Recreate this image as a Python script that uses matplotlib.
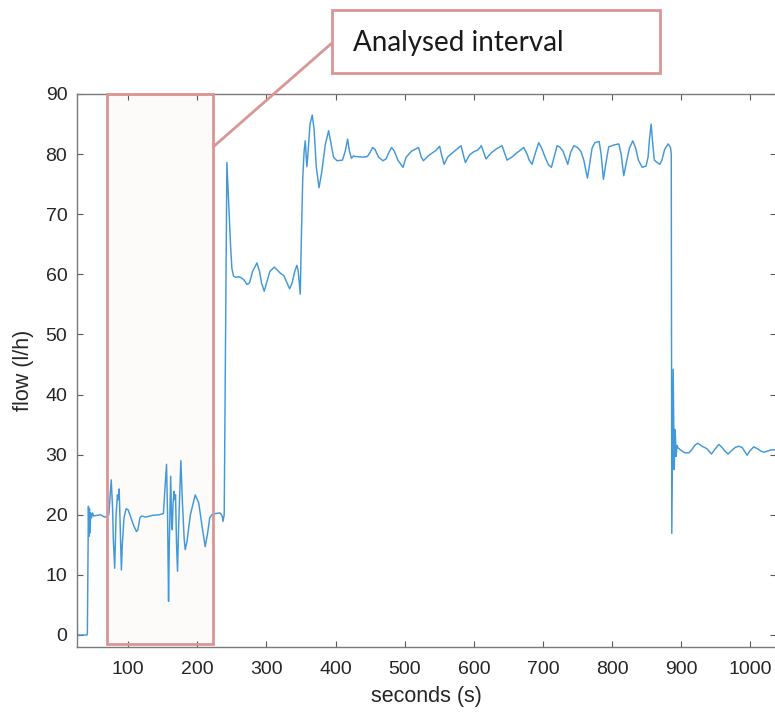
import matplotlib
matplotlib.use("Agg")
import matplotlib.pyplot as plt
from matplotlib.patches import Rectangle, ConnectionPatch

plt.rcParams['font.family'] = ['Liberation Sans', 'DejaVu Sans']

# ---- data ----
time_s = [
    20, 25.5, 26.5, 27, 40.5, 41, 42.5, 43.2, 44, 44.8, 45.8, 47, 48.5, 50, 55, 60, 66, 70,
    72, 75.5, 77.5, 78.5, 80.5, 82.5, 84.5, 85.5, 87, 88.5, 90.2, 91.5, 94, 97, 100, 104, 108,
    112, 114, 117, 119.8, 125, 135, 145, 151, 153, 155.5, 157, 158.4, 159.5, 161.5, 163, 163.8,
    165, 166.5, 167.5, 168.5, 170, 171.4, 173, 176.2, 178.5, 181, 182.5, 185, 190, 197, 202,
    207, 211.4, 215, 218, 221, 226, 233, 236, 237.2, 238.9,
    242.8, 244.5, 246, 248, 250, 252.4, 256, 260, 264, 268, 272, 275.6, 280, 286.2, 290, 293,
    296.8, 300, 305, 311.3, 315, 320, 325, 330, 333.5, 337, 341, 344.1, 346, 348.9, 350.5,
    352.5, 354.5, 356.1, 358.5, 360, 363, 366.3, 369, 372, 376, 380, 385, 389.9, 393, 397, 402,
    410, 414, 417.4, 420, 423, 426, 428, 440, 446, 450, 453.6, 457, 462, 468.5, 473, 478, 481,
    485, 490, 497.5, 502, 510, 520, 524, 527, 535, 545, 550.5, 553, 557, 562, 570, 581.5,
    584.5, 587.7, 594, 600, 606, 610.9, 613.5, 617.6, 625, 633, 640.8, 643.5, 648, 655, 662,
    672.1, 677, 680, 684.2, 689, 693.8, 698, 703, 708, 712.2, 716, 720.4, 724, 729, 732, 735.8,
    740, 744.5, 750, 755, 759, 764.3, 767, 771, 775, 781.2, 784, 787.4, 791, 795, 802, 809.6,
    813, 816.8, 820, 825, 829.9, 834, 838, 843.4, 849, 852, 854, 856.4, 858.5, 861, 865, 868.9,
    872, 876, 881, 884.4, 885.5, 886.3, 888.3, 889.8, 891.2, 892.6, 893.8, 895.5, 900, 905,
    910.9, 915, 920, 924, 930, 937, 943.7, 948, 954.3, 959, 963, 967.8, 972, 978, 983.2, 988,
    992, 995.3, 999, 1004.9, 1010, 1015, 1019.4, 1025, 1030, 1040,
]
flow_lh = [
    21.3, 21.3, 0.2, 0.0, 0.0, 0.2, 21.4, 16.4, 21.0, 17.0, 20.3, 19.5, 20.3, 19.8, 19.9, 20.0, 19.6, 19.8,
    20.0, 25.8, 21.0, 16.0, 11.1, 20.0, 23.3, 22.5, 24.3, 18.0, 10.8, 15.0, 19.5, 21.0, 20.8, 19.5, 18.2,
    17.2, 17.5, 19.5, 19.8, 19.6, 19.9, 20.0, 20.2, 24.0, 28.4, 20.0, 5.6, 15.0, 26.4, 18.0, 17.5,
    22.0, 23.9, 22.5, 23.3, 15.0, 10.6, 18.0, 29.0, 22.0, 16.0, 14.2, 15.5, 20.0, 23.3, 22.0,
    18.0, 14.7, 17.0, 19.5, 20.0, 20.2, 20.3, 19.8, 18.9, 20.0,
    78.6, 74.0, 70.3, 65.0, 61.0, 59.7, 59.5, 59.6, 59.4, 59.0, 58.3, 58.6, 60.5, 61.9, 60.5, 58.5,
    57.2, 58.5, 60.5, 61.2, 60.8, 60.2, 59.8, 58.5, 57.6, 58.5, 60.5, 61.5, 60.5, 56.7, 66.0,
    76.0, 80.5, 82.2, 77.9, 80.0, 85.0, 86.5, 84.0, 78.0, 74.4, 77.0, 81.5, 83.9, 82.0, 79.5, 78.9,
    79.0, 80.5, 82.5, 80.5, 79.3, 79.7, 79.6, 79.5, 79.6, 80.3, 81.1, 80.8, 79.5, 78.9, 79.2, 80.5, 81.1,
    80.5, 79.0, 77.8, 79.5, 80.5, 81.1, 79.5, 78.9, 79.8, 80.6, 81.3, 80.0, 78.3, 79.5, 80.3, 81.4,
    80.0, 78.6, 79.9, 80.4, 80.7, 81.4, 80.5, 79.2, 80.2, 80.9, 81.4, 80.5, 79.0, 79.5, 80.2,
    81.1, 80.0, 79.0, 78.3, 80.2, 81.9, 81.0, 79.5, 78.2, 77.8, 79.5, 81.4, 81.2, 80.5, 79.5, 78.3,
    80.3, 81.4, 81.1, 80.4, 79.0, 76.0, 78.0, 81.0, 81.9, 82.1, 80.0, 75.8, 78.5, 81.2, 81.5, 81.7,
    80.0, 76.4, 78.3, 81.0, 82.2, 81.0, 79.0, 77.8, 78.0, 79.5, 82.5, 85.0, 82.0, 79.0, 78.6, 78.3,
    79.0, 80.8, 81.7, 81.1, 80.0, 16.9, 44.2, 27.5, 34.2, 29.7, 31.5, 31.1, 30.7, 30.3,
    30.3, 30.8, 31.6, 31.9, 31.4, 31.0, 30.1, 30.8, 31.7, 31.2, 30.6, 30.1, 30.6, 31.2, 31.4, 31.2,
    30.5, 29.9, 30.6, 31.3, 31.0, 30.6, 30.4, 30.6, 30.8, 30.8,
]

interval_start = 69.6
interval_end = 223.0
x_ticks = [100, 200, 300, 400, 500, 600, 700, 800, 900, 1000]
y_ticks = [0, 10, 20, 30, 40, 50, 60, 70, 80, 90]
x_label = "seconds (s)"
y_label = "flow (l/h)"
note_text = "Analysed interval"

# ---- figure ----
W, H = 775, 720
fig = plt.figure(figsize=(W / 100, H / 100), dpi=100)
ax = fig.add_axes([77 / W, 1 - 647 / H, 699 / W, 553 / H])

ax.set_xlim(26, 1037)
ax.set_ylim(-2, 90)

pink = '#d99694'
# shaded analysed interval
ax.add_patch(Rectangle((interval_start, -1.5), interval_end - interval_start, 91.55,
                       facecolor='#fcfbf9', edgecolor='none', zorder=1, clip_on=False))
ax.plot(time_s, flow_lh, color='#4298d8', lw=1.05, zorder=2, solid_joinstyle='round')
ax.add_patch(Rectangle((interval_start, -1.5), interval_end - interval_start, 91.55,
                       facecolor='none', edgecolor=pink, lw=2.0, zorder=4, clip_on=False))

ax.set_xticks(x_ticks)
ax.set_yticks(y_ticks)
ax.tick_params(direction='in', top=True, right=True, length=4.5, width=0.8,
               color='#5a5a5a', labelsize=14, labelcolor='#262626')
ax.tick_params(axis='x', pad=10)
ax.tick_params(axis='y', pad=7)
for s in ax.spines.values():
    s.set_color('#7a7a7a')
    s.set_linewidth(1.0)

ax.set_xlabel(x_label, fontsize=15.5, color='#262626', labelpad=6)
ax.set_ylabel(y_label, fontsize=15.5, color='#262626', labelpad=8)

# annotation box
fig.patches.append(Rectangle((332 / W, 1 - 73 / H), 328 / W, 63 / H,
                             transform=fig.transFigure, facecolor='white',
                             edgecolor=pink, lw=2.0, zorder=5))
fig.text(353 / W, 1 - 43 / H, note_text, fontsize=20, family=['Lato', 'DejaVu Sans'],
         color='#1a1a1a', va='center', ha='left', zorder=6)
con = ConnectionPatch(xyA=(interval_end, 81.2), coordsA=ax.transData,
                      xyB=(332 / W, 1 - 43 / H), coordsB=fig.transFigure,
                      color=pink, lw=2.0, zorder=5)
fig.add_artist(con)

fig.savefig('out.png', dpi=100)
